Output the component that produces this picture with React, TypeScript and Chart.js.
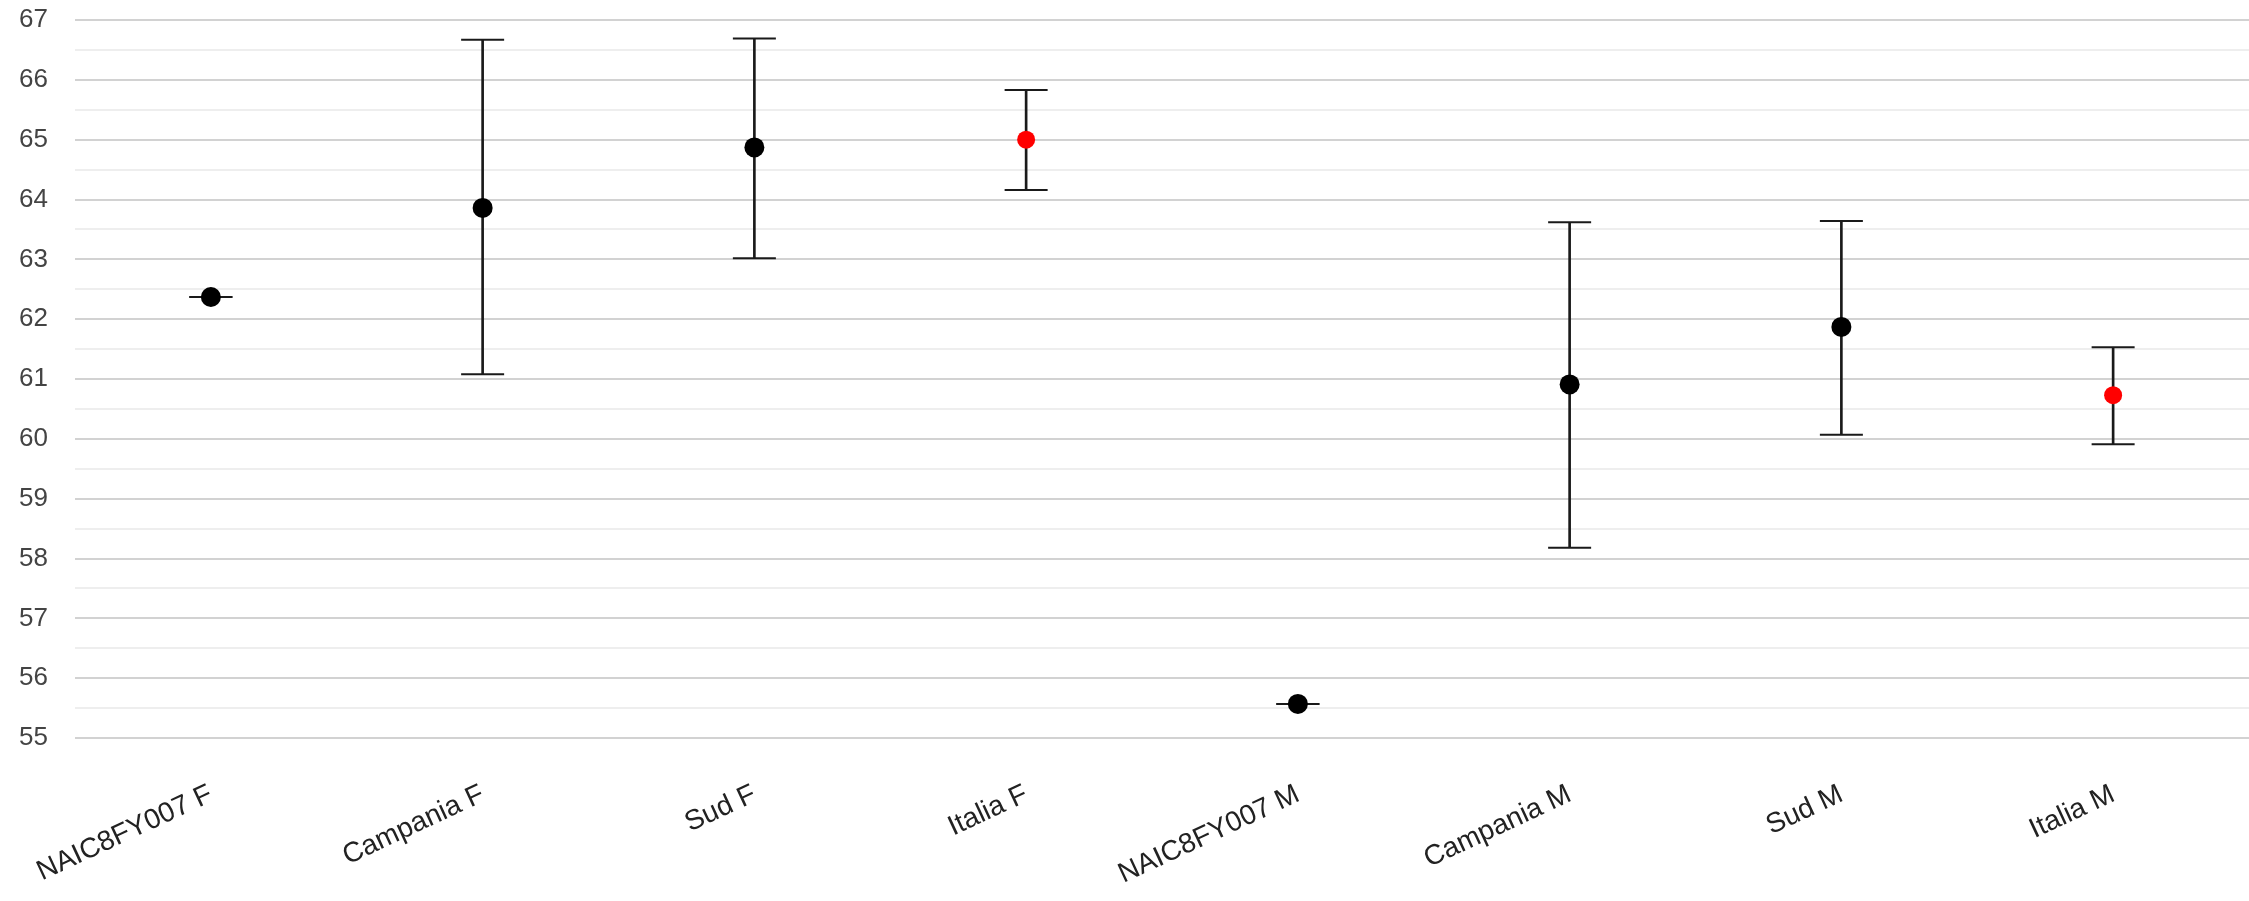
import React, { useEffect, useRef } from "react";
import { Chart, registerables } from "chart.js";

Chart.register(...registerables);

const categories = [
  "NAIC8FY007 F",
  "Campania F",
  "Sud F",
  "Italia F",
  "NAIC8FY007 M",
  "Campania M",
  "Sud M",
  "Italia M",
];
const values = [62.37, 63.86, 64.87, 65.0, 55.57, 60.91, 61.87, 60.73];
const lower = [62.37, 61.08, 63.02, 64.16, 55.57, 58.18, 60.07, 59.91];
const upper = [62.37, 66.67, 66.69, 65.83, 55.57, 63.62, 63.64, 61.53];
const isReference = [false, false, false, true, false, false, false, true];

const yMin = 55;
const yMax = 67;
const yStep = 0.5;

export default function App() {
  const canvasRef = useRef<HTMLCanvasElement | null>(null);

  useEffect(() => {
    if (!canvasRef.current) return;
    Chart.defaults.font.family = 'Arial, "Liberation Sans", sans-serif';
    const chart = new Chart(canvasRef.current, {
      type: "bar",
      data: {
        labels: categories,
        datasets: [
          {
            type: "line",
            label: "valore",
            data: values,
            showLine: false,
            pointRadius: values.map((_, i) => (isReference[i] ? 9 : 10)),
            pointBackgroundColor: values.map((_, i) => (isReference[i] ? "#ff0000" : "#000000")),
            pointBorderWidth: 0,
            pointBorderColor: "rgba(0,0,0,0)",
            clip: false,
          } as any,
          {
            type: "line",
            label: "max",
            data: upper,
            showLine: false,
            pointStyle: "line",
            pointRadius: 21.5,
            pointBorderColor: "#1a1a1a",
            pointBorderWidth: 2,
            clip: false,
          } as any,
          {
            type: "line",
            label: "min",
            data: lower,
            showLine: false,
            pointStyle: "line",
            pointRadius: 21.5,
            pointBorderColor: "#1a1a1a",
            pointBorderWidth: 2,
            clip: false,
          } as any,
          {
            type: "bar",
            label: "intervallo",
            data: lower.map((lo, i) => [lo, upper[i]]),
            backgroundColor: "#1a1a1a",
            borderWidth: 0,
            barThickness: 2,
          } as any,
        ],
      },
      options: {
        animation: false,
        responsive: true,
        maintainAspectRatio: false,
        layout: { autoPadding: false, padding: { top: 20, left: 0, right: -6, bottom: 0 } },
        plugins: {
          legend: { display: false },
          tooltip: { enabled: false },
        },
        scales: {
          x: {
            offset: true,
            grid: { display: false },
            border: { display: false },
            ticks: {
              autoSkip: false,
              minRotation: 25,
              maxRotation: 25,
              padding: 32,
              color: "#222222",
              font: { size: 28 },
            },
            afterFit: (scale: any) => {
              scale.height = 163;
              scale.paddingLeft = 0;
              scale.paddingRight = 0;
            },
          },
          y: {
            min: yMin,
            max: yMax,
            border: { display: false },
            grid: {
              drawTicks: false,
              lineWidth: 2,
              color: (ctx: any) =>
                ctx.tick && Number.isInteger(ctx.tick.value) ? "#d2d2d2" : "#eeeeee",
            },
            ticks: {
              stepSize: yStep,
              autoSkip: false,
              padding: 27,
              color: "#444444",
              font: { size: 26 },
              callback: (v: any) => (Number.isInteger(Number(v)) ? String(v) : ""),
            },
            afterFit: (scale: any) => {
              scale.width = 75;
              scale.paddingTop = 0;
              scale.paddingBottom = 0;
            },
          },
        },
      },
    });
    return () => chart.destroy();
  }, []);

  return (
    <div style={{ position: "absolute", left: 0, top: 0, width: 2249, height: 901 }}>
      <canvas ref={canvasRef} />
    </div>
  );
}
